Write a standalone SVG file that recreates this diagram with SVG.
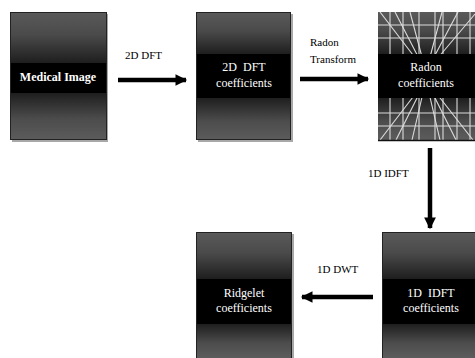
<svg xmlns="http://www.w3.org/2000/svg" width="475" height="358" viewBox="0 0 475 358">
<defs>
<linearGradient id="gTop" x1="0" y1="0" x2="0" y2="1">
<stop offset="0" stop-color="#5a5a5a"/><stop offset="0.45" stop-color="#4a4a4a"/><stop offset="1" stop-color="#1e1e1e"/>
</linearGradient>
<linearGradient id="gBot" x1="0" y1="0" x2="0" y2="1">
<stop offset="0" stop-color="#1e1e1e"/><stop offset="0.55" stop-color="#4c4c4c"/><stop offset="1" stop-color="#5c5c5c"/>
</linearGradient>
<clipPath id="clipR"><rect x="378" y="12" width="97" height="128"/></clipPath>
<marker id="ah" viewBox="0 0 10 10" refX="9" refY="5" markerWidth="3.2" markerHeight="2.6" orient="auto" markerUnits="strokeWidth">
<path d="M0,0 L10,5 L0,10 Z" fill="#000"/>
</marker>
</defs>
<style>
.frame{fill:none;stroke:#222;stroke-width:1}
.shadow{fill:#a8a8a8}
.band{fill:#000}
.bt{font-family:"Liberation Serif","Times New Roman",serif;font-size:12px;fill:#fff;text-anchor:middle}
.bold{font-weight:bold}
.lbl{font-family:"Liberation Serif","Times New Roman",serif;font-size:11px;fill:#000}
.arr{stroke:#000;stroke-width:4.5;fill:none;marker-end:url(#ah)}
.grid{stroke:#dcdcdc;stroke-width:1.1;fill:none}
</style>

<g id="node-medical">
<rect class="shadow" x="12" y="14" width="96" height="128"/>
<rect x="10" y="12" width="96" height="51" fill="url(#gTop)"/>
<rect class="band" x="10" y="63" width="96" height="30"/>
<rect x="10" y="93" width="96" height="47" fill="url(#gBot)"/>
<rect class="frame" x="10.5" y="12.5" width="96" height="127"/>
<text class="bt bold" x="58" y="81">Medical Image</text>
</g>

<g id="node-dft">
<rect class="shadow" x="198" y="14" width="95" height="128"/>
<rect x="196" y="12" width="95" height="42" fill="url(#gTop)"/>
<rect class="band" x="196" y="54" width="95" height="44"/>
<rect x="196" y="98" width="95" height="42" fill="url(#gBot)"/>
<rect class="frame" x="196.5" y="12.5" width="94" height="127"/>
<text class="bt" x="244" y="71" xml:space="preserve">2D  DFT</text>
<text class="bt" x="244" y="87">coefficients</text>
</g>

<g id="node-radon">
<rect x="378" y="12" width="97" height="42" fill="url(#gTop)"/>
<rect x="378" y="98" width="97" height="42" fill="url(#gBot)"/>
<g clip-path="url(#clipR)">
<g class="grid">
<line x1="378" y1="25" x2="475" y2="25"/>
<line x1="378" y1="38" x2="475" y2="38"/>
<line x1="378" y1="113" x2="475" y2="113"/>
<line x1="378" y1="126" x2="475" y2="126"/>
<line x1="390" y1="12" x2="390" y2="140"/>
<line x1="403" y1="12" x2="403" y2="140"/>
<line x1="419" y1="12" x2="419" y2="140"/>
<line x1="435" y1="12" x2="435" y2="140"/>
<line x1="443" y1="12" x2="443" y2="140"/>
<line x1="457" y1="12" x2="457" y2="140"/>
<line x1="470" y1="12" x2="470" y2="140"/>
<line x1="380" y1="12" x2="426" y2="72"/>
<line x1="395" y1="12" x2="426" y2="72"/>
<line x1="410" y1="12" x2="426" y2="72"/>
<line x1="442" y1="12" x2="426" y2="72"/>
<line x1="458" y1="12" x2="426" y2="72"/>
<line x1="475" y1="14" x2="426" y2="72"/>
<line x1="380" y1="140" x2="426" y2="80"/>
<line x1="396" y1="140" x2="426" y2="80"/>
<line x1="412" y1="140" x2="426" y2="80"/>
<line x1="440" y1="140" x2="426" y2="80"/>
<line x1="456" y1="140" x2="426" y2="80"/>
<line x1="473" y1="140" x2="426" y2="80"/>
</g>
</g>
<rect class="band" x="378" y="54" width="97" height="44"/>
<line x1="378" y1="140.5" x2="475" y2="140.5" stroke="#111" stroke-width="1.5"/>
<text class="bt" x="426" y="71">Radon</text>
<text class="bt" x="426" y="87">coefficients</text>
</g>

<g id="node-idft">
<rect x="382" y="232" width="93" height="47" fill="url(#gTop)"/>
<rect class="band" x="382" y="279" width="93" height="45"/>
<rect x="382" y="324" width="93" height="34" fill="url(#gBot)"/>
<line x1="382.5" y1="232" x2="382.5" y2="358" stroke="#222"/>
<line x1="382" y1="232.5" x2="475" y2="232.5" stroke="#222"/>
<text class="bt" x="431" y="297" xml:space="preserve">1D  IDFT</text>
<text class="bt" x="431" y="312">coefficients</text>
</g>

<g id="node-ridgelet">
<rect class="shadow" x="198" y="234" width="96" height="124"/>
<rect x="196" y="232" width="96" height="47" fill="url(#gTop)"/>
<rect class="band" x="196" y="279" width="96" height="45"/>
<rect x="196" y="324" width="96" height="34" fill="url(#gBot)"/>
<path d="M196.5,358 V232.5 H291.5 V358" fill="none" stroke="#222"/>
<text class="bt" x="244" y="297">Ridgelet</text>
<text class="bt" x="244" y="312">coefficients</text>
</g>

<g id="connectors">
<line class="arr" x1="118" y1="80" x2="186" y2="80"/>
<text class="lbl" x="125" y="59">2D DFT</text>
<line class="arr" x1="300" y1="79" x2="368" y2="79"/>
<text class="lbl" x="310" y="46">Radon</text>
<text class="lbl" x="310" y="63">Transform</text>
<line class="arr" x1="430" y1="148" x2="430" y2="228"/>
<text class="lbl" x="368" y="177">1D IDFT</text>
<line class="arr" x1="373" y1="297" x2="302" y2="297"/>
<text class="lbl" x="317" y="273">1D DWT</text>
</g>
</svg>
